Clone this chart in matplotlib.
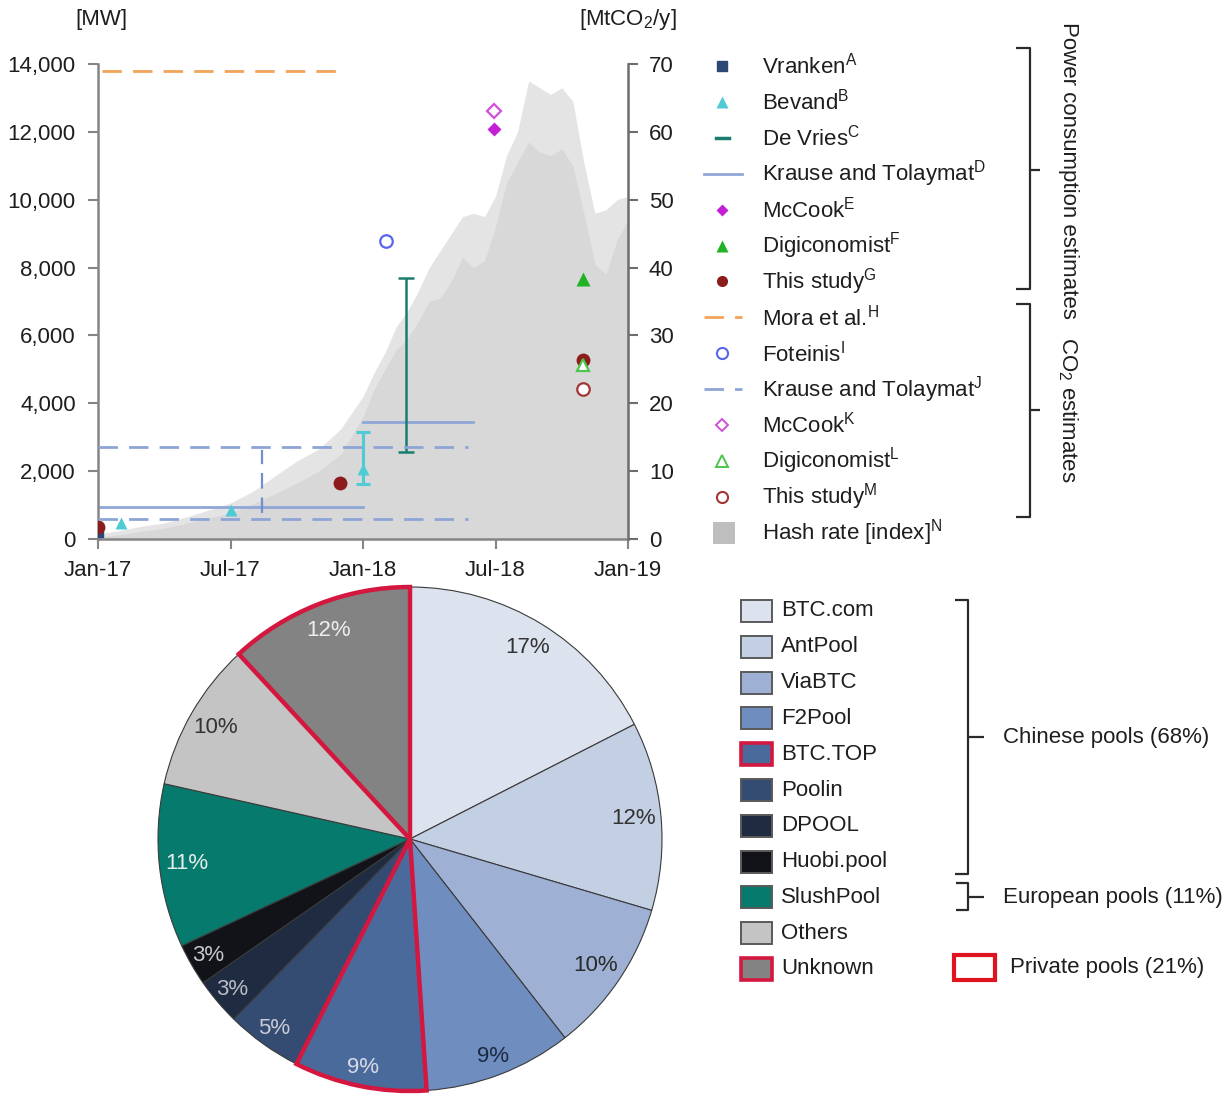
import matplotlib
matplotlib.use("Agg")
import matplotlib.pyplot as plt
from matplotlib.patches import Rectangle
from matplotlib.ticker import FuncFormatter
import numpy as np

plt.rcParams['font.family'] = ['Liberation Sans', 'DejaVu Sans']
plt.rcParams['mathtext.fontset'] = 'custom'
plt.rcParams['mathtext.rm'] = 'Liberation Sans'
plt.rcParams['mathtext.it'] = 'Liberation Sans'
plt.rcParams['mathtext.default'] = 'regular'
TXT = '#1e1e1e'
FS = 16

# ---------------- data: top chart (x = months since Jan-2017) ----------------
x_ticks = [0, 6, 12, 18, 24]
x_ticklabels = ['Jan-17', 'Jul-17', 'Jan-18', 'Jul-18', 'Jan-19']
left_ticks = [0, 2000, 4000, 6000, 8000, 10000, 12000, 14000]
right_ticks = [0, 10, 20, 30, 40, 50, 60, 70]

hash_months = [0, 1, 2, 3, 4, 5, 6, 7, 8, 9, 10, 11, 12, 12.5, 13, 13.5, 14, 14.5,
               15, 15.5, 16, 16.5, 17, 17.5, 18, 18.5, 19, 19.5, 20, 20.5, 21,
               21.5, 22, 22.5, 23, 23.5, 24]
hash_core = [50, 130, 230, 320, 460, 620, 770, 1030, 1330, 1650, 2000, 2500, 3600,
             4400, 5000, 5570, 5900, 6400, 7000, 7100, 7600, 8300, 8000, 8200,
             9200, 10500, 11100, 11700, 11400, 11300, 11500, 11000, 9600, 8100,
             7800, 8800, 9400]
hash_peak = [150, 250, 380, 470, 650, 850, 1060, 1400, 1850, 2300, 2650, 3250, 4200,
             4900, 5500, 6250, 6700, 7300, 8000, 8500, 9000, 9500, 9600, 9500,
             10100, 11300, 12000, 13500, 13300, 13100, 13300, 12900, 11100, 9600,
             9700, 10000, 10100]

# power consumption estimates [MW]
vranken_x, vranken_y = [0.0], [200]
bevand_x, bevand_y = [1.05, 6.0, 12.0], [480, 855, 2060]
bevand_range_x, bevand_range_lo, bevand_range_hi = 12.0, 1620, 3160
devries_x, devries_lo, devries_hi = 13.95, 2570, 7680
krause_pw_x0 = [0.0, 12.0]
krause_pw_x1 = [12.0, 17.0]
krause_pw_y = [950, 3450]
mccook_pw_x, mccook_pw_y = [17.95], [12080]
digi_pw_x, digi_pw_y = [21.98], [7660]
study_pw_x, study_pw_y = [0.0, 10.97, 21.98], [340, 1640, 5270]

# CO2 estimates [MtCO2/y]
mora_x0, mora_x1, mora_y = 0.2, 11.1, 69.0
foteinis_x, foteinis_y = [13.03], [43.9]
krause_co2_x0 = [0.0, 0.0]
krause_co2_x1 = [16.75, 16.75]
krause_co2_y = [13.6, 2.95]
krause_co2_vx, krause_co2_vlo, krause_co2_vhi = 7.43, 3.8, 13.1
mccook_co2_x, mccook_co2_y = [17.95], [63.1]
digi_co2_x, digi_co2_y = [21.98], [25.6]
study_co2_x, study_co2_y = [21.98], [22.05]

# ---------------- data: pie ----------------
pools = ['BTC.com', 'AntPool', 'ViaBTC', 'F2Pool', 'BTC.TOP', 'Poolin', 'DPOOL',
         'Huobi.pool', 'SlushPool', 'Others', 'Unknown']
shares = [17.5, 12.1, 9.9, 9.5, 8.5, 4.9, 3.0, 2.7, 10.5, 9.6, 11.9]
share_labels = ['17%', '12%', '10%', '9%', '9%', '5%', '3%', '3%', '11%', '10%', '12%']
pool_colors = ['#DCE3EF', '#C3CFE3', '#9EB1D4', '#6F8DBF', '#4B6A9C', '#344B72',
               '#1F2B40', '#111319', '#067A6C', '#C4C4C4', '#838383']
label_colors = ['#333333', '#333333', '#2a2a2a', '#1a2a40', '#d8dce6', '#c8ccd6',
                '#b8bcc6', '#c8c8c8', '#e6eeee', '#333333', '#eeeeee']
private_pools = ['BTC.TOP', 'Unknown']
RED = '#D3173F'

# ---------------- figure ----------------
W, H = 1229, 1095
fig = plt.figure(figsize=(W / 100, H / 100), dpi=100)

def fx(px):
    return px / W

def fy(py):
    return 1 - py / H

ax = fig.add_axes([fx(98), fy(539), fx(628) - fx(98), fy(64) - fy(539)])
ax.set_xlim(0, 24)
ax.set_ylim(0, 14000)

# hash rate index (background)
ax.fill_between(hash_months, 0, hash_peak, color='#E4E4E4', lw=0, zorder=0)
ax.fill_between(hash_months, 0, hash_core, color='#D8D8D8', lw=0, zorder=0.5)

# Krause D (solid)
for a, b, y in zip(krause_pw_x0, krause_pw_x1, krause_pw_y):
    ax.plot([a, b], [y, y], color='#8FA7D6', lw=2.0, zorder=2)
# De Vries range
ax.errorbar([devries_x], [(devries_lo + devries_hi) / 2],
            yerr=[[(devries_hi - devries_lo) / 2], [(devries_hi - devries_lo) / 2]],
            fmt='none', ecolor='#1B7D70', elinewidth=1.8, capsize=6, capthick=1.8, zorder=3)
# Bevand range and points
ax.errorbar([bevand_range_x], [bevand_y[2]],
            yerr=[[bevand_y[2] - bevand_range_lo], [bevand_range_hi - bevand_y[2]]],
            fmt='none', ecolor='#4FCBD6', elinewidth=2.2, capsize=5, capthick=2.2, zorder=3)
ax.plot(vranken_x, vranken_y, 's', color='#2D4877', ms=7, zorder=4)
ax.plot(bevand_x, bevand_y, '^', color='#4FCBD6', ms=9, zorder=4, mec='none')
ax.plot(mccook_pw_x, mccook_pw_y, 'D', color='#C41ED6', ms=7, zorder=4, mec='none')
ax.plot(digi_pw_x, digi_pw_y, '^', color='#22B325', ms=10, zorder=4, mec='none')
ax.plot(study_pw_x, study_pw_y, 'o', color='#8C1C1C', ms=10, zorder=5, mec='none')

ax.set_xticks(x_ticks)
ax.set_xticklabels(x_ticklabels)
ax.set_yticks(left_ticks)
ax.yaxis.set_major_formatter(FuncFormatter(lambda v, p: f'{v:,.0f}'))
for s in ['top', 'right']:
    ax.spines[s].set_visible(False)
for s in ['left', 'bottom']:
    ax.spines[s].set_color('#858585')
    ax.spines[s].set_linewidth(1.8)
ax.tick_params(axis='both', direction='out', length=7, width=1.5, color='#858585',
               labelsize=FS, labelcolor=TXT)
ax.tick_params(axis='y', pad=9)
ax.tick_params(axis='x', pad=8)

ax2 = ax.twinx()
ax2.set_ylim(0, 70)
ax2.set_yticks(right_ticks)
for s in ['top', 'left', 'bottom']:
    ax2.spines[s].set_visible(False)
ax2.spines['right'].set_color('#6d6d6d')
ax2.spines['right'].set_linewidth(1.8)
ax2.tick_params(axis='y', direction='out', length=7, width=1.5, color='#6d6d6d',
                labelsize=FS, labelcolor=TXT, pad=8)

ax2.plot([mora_x0, mora_x1], [mora_y, mora_y], color='#F2A45A', lw=2.0,
         dashes=(7, 4), zorder=2)
for a, b, y in zip(krause_co2_x0, krause_co2_x1, krause_co2_y):
    ax2.plot([a, b], [y, y], color='#8DA5D6', lw=2.0, dashes=(7, 4), zorder=2)
ax2.plot([krause_co2_vx, krause_co2_vx], [krause_co2_vlo, krause_co2_vhi],
         color='#6F8FD0', lw=1.6, dashes=(7, 4), zorder=2)
ax2.plot(foteinis_x, foteinis_y, 'o', mfc='white', mec='#5865EE', mew=1.6, ms=9, zorder=4)
ax2.plot(mccook_co2_x, mccook_co2_y, 'D', mfc='white', mec='#D24FDB', mew=1.6, ms=7, zorder=4)
ax2.plot(study_co2_x, study_co2_y, 'o', mfc='white', mec='#A33535', mew=1.6, ms=9, zorder=4)
ax2.plot(digi_co2_x, digi_co2_y, '^', mfc='white', mec='#4CC64C', mew=1.6, ms=9, zorder=4)

# ---------------- pie ----------------
R = 252
cx, cy = 410, 839
lim = 1.03
axp = fig.add_axes([fx(cx - R * lim), fy(cy + R * lim), 2 * R * lim / W, 2 * R * lim / H])
lbl_iter = iter(share_labels)
wedges, _, autotexts = axp.pie(shares, colors=pool_colors, startangle=90,
                               counterclock=False, autopct=lambda p: next(lbl_iter),
                               pctdistance=0.89,
                               wedgeprops=dict(edgecolor='#3a3a3a', linewidth=0.8),
                               textprops=dict(fontsize=FS))
for w, name in zip(wedges, pools):
    if name in private_pools:
        w.set_edgecolor(RED)
        w.set_linewidth(3.2)
        w.set_zorder(3)
# labels of the lower wedges sit slightly further out
for i, (w, t) in enumerate(zip(wedges, autotexts)):
    if 3 <= i <= 7:
        ang = np.deg2rad((w.theta1 + w.theta2) / 2)
        t.set_position((0.925 * np.cos(ang), 0.925 * np.sin(ang)))
for t, c in zip(autotexts, label_colors):
    t.set_color(c)
axp.set_xlim(-lim, lim)
axp.set_ylim(-lim, lim)
axp.set_aspect('equal')
axp.axis('off')

# ---------------- overlay for legends / annotations (pixel coords) ----------------
ov = fig.add_axes([0, 0, 1, 1])
ov.set_xlim(0, W)
ov.set_ylim(H, 0)
ov.axis('off')

ov.text(101, 20, '[MW]', fontsize=FS, color=TXT, ha='center', va='center')
ov.text(628, 20, '[MtCO$_2$/y]', fontsize=FS, color=TXT, ha='center', va='center')

# top legend
leg_y0, leg_dy = 66, 35.9
mx, tx = 722, 762
rows = [
    ('Vranken$^{A}$', dict(marker='s', color='#2D4877', ms=7, ls='none')),
    ('Bevand$^{B}$', dict(marker='^', color='#4FCBD6', ms=8, ls='none', mec='none')),
    ('De Vries$^{C}$', None),
    ('Krause and Tolaymat$^{D}$', None),
    ('McCook$^{E}$', dict(marker='D', color='#C41ED6', ms=6, ls='none', mec='none')),
    ('Digiconomist$^{F}$', dict(marker='^', color='#22B325', ms=8, ls='none', mec='none')),
    ('This study$^{G}$', dict(marker='o', color='#8C1C1C', ms=8, ls='none', mec='none')),
    ('Mora et al.$^{H}$', None),
    ('Foteinis$^{I}$', dict(marker='o', mfc='white', mec='#5865EE', mew=1.5, ms=8, ls='none')),
    ('Krause and Tolaymat$^{J}$', None),
    ('McCook$^{K}$', dict(marker='D', mfc='white', mec='#D24FDB', mew=1.4, ms=6, ls='none')),
    ('Digiconomist$^{L}$', dict(marker='^', mfc='white', mec='#4CC64C', mew=1.4, ms=8, ls='none')),
    ('This study$^{M}$', dict(marker='o', mfc='white', mec='#A33535', mew=1.5, ms=8, ls='none')),
    ('Hash rate [index]$^{N}$', None),
]
for i, (lab, style) in enumerate(rows):
    y = leg_y0 + leg_dy * i
    ov.text(tx, y, lab, fontsize=FS, color=TXT, ha='left', va='center')
    if style is not None:
        ov.plot([mx], [y], **style)
ov.plot([716, 729], [leg_y0 + 2 * leg_dy] * 2, color='#1B7D70', lw=2.5)
ov.plot([704, 742], [leg_y0 + 3 * leg_dy] * 2, color='#8FA7D6', lw=2.0)
ov.plot([704, 742], [leg_y0 + 7 * leg_dy] * 2, color='#F2A45A', lw=2.0, dashes=(7, 4))
ov.plot([704, 742], [leg_y0 + 9 * leg_dy] * 2, color='#8DA5D6', lw=2.0, dashes=(7, 4))
hy = leg_y0 + 13 * leg_dy
ov.add_patch(Rectangle((713, hy - 11), 22, 22, facecolor='#BEBEBE', edgecolor='none'))

def bracket(x, y0, y1, ym, arm, tick):
    kw = dict(color='#2a2a2a', lw=1.6, solid_capstyle='butt')
    ov.plot([x - arm, x, x, x - arm], [y0, y0, y1, y1], **kw)
    ov.plot([x, x + tick], [ym, ym], **kw)

bracket(1030, 48, 289, 170, 14, 10)
bracket(1030, 304, 517, 410, 14, 10)
ov.text(1068, 170, 'Power consumption estimates', fontsize=FS, color=TXT,
        rotation=-90, ha='center', va='center')
ov.text(1068, 410, 'CO$_2$ estimates', fontsize=FS, color=TXT,
        rotation=-90, ha='center', va='center')

# pie legend
py0, pdy = 611, 35.8
for i, (name, col) in enumerate(zip(pools, pool_colors)):
    y = py0 + pdy * i
    if name in private_pools:
        ec, lw = RED, 2.6
    else:
        ec, lw = '#5a5a5a', 1.4
    ov.add_patch(Rectangle((741, y - 11), 31, 22, facecolor=col, edgecolor=ec, linewidth=lw))
    ov.text(781, y, name, fontsize=FS, color=TXT, ha='left', va='center')

bracket(968, 600, 874, 737, 13, 16)
bracket(968, 883, 910, 897, 12, 16)
ov.text(1003, 738, 'Chinese pools (68%)', fontsize=FS, color=TXT, ha='left', va='center')
ov.text(1003, 898, 'European pools (11%)', fontsize=FS, color=TXT, ha='left', va='center')
ov.add_patch(Rectangle((954, 955), 41, 25, facecolor='white', edgecolor='#E0141E', linewidth=3))
ov.text(1010, 968, 'Private pools (21%)', fontsize=FS, color=TXT, ha='left', va='center')

fig.savefig('out.png', dpi=100)
